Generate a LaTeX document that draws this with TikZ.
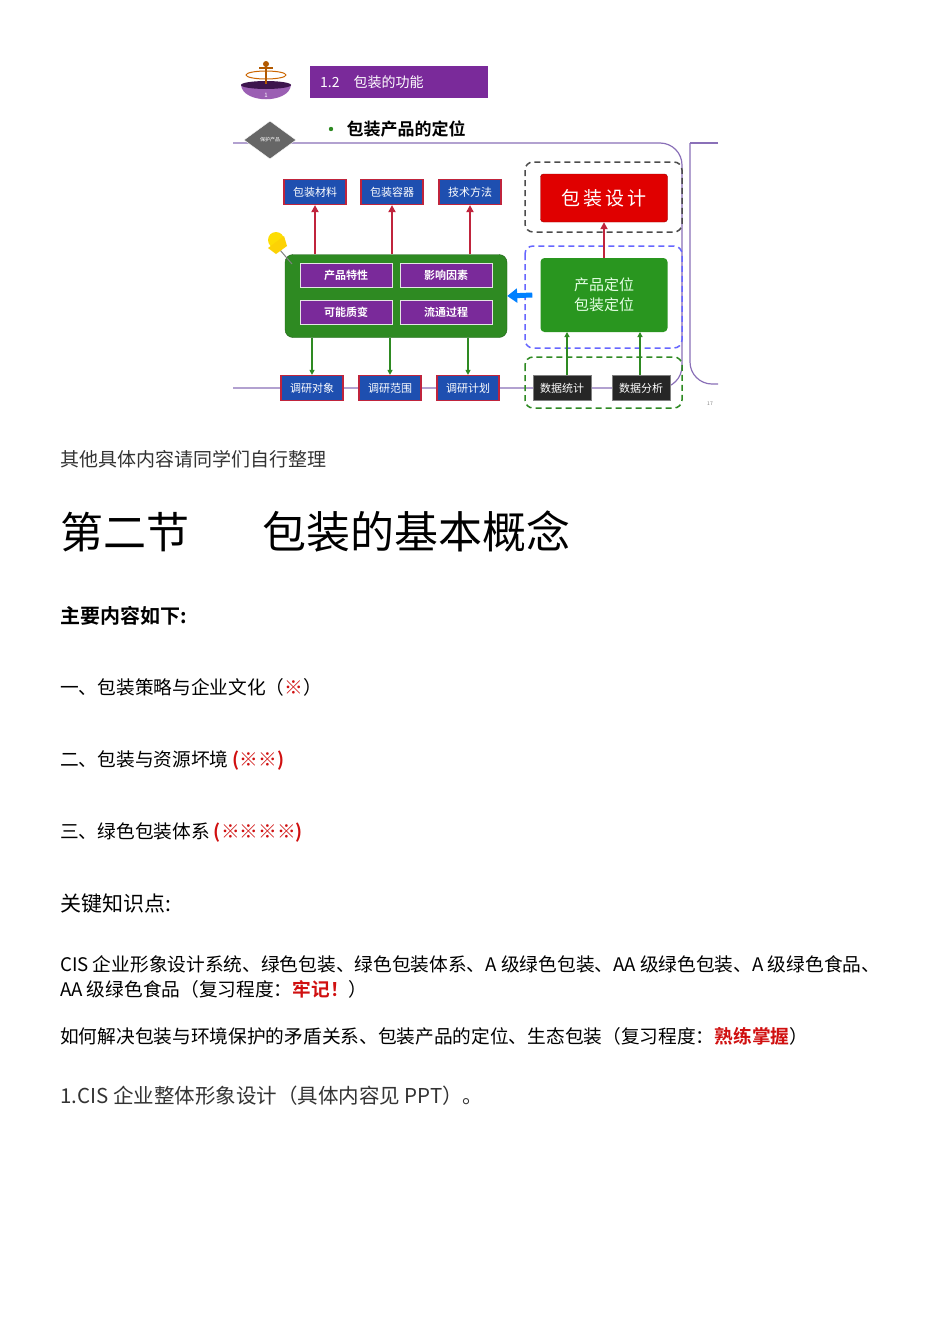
\documentclass[tikz,border=0pt]{standalone}
\usepackage{fontspec}
\setmainfont{Noto Sans CJK SC}
\newfontfamily\cjk{Noto Sans CJK SC}
\newfontfamily\cjkb{Noto Sans CJK SC Bold}
\usetikzlibrary{arrows.meta,shapes.geometric}
\definecolor{pur}{HTML}{7A2A9A}
\definecolor{frame}{HTML}{8A70B8}
\definecolor{bluebox}{HTML}{1E4FB0}
\definecolor{redline}{HTML}{C0243C}
\definecolor{gbox}{HTML}{2E8A22}
\definecolor{red1}{HTML}{E00000}
\definecolor{txtred}{HTML}{D01010}
\begin{document}
\begin{tikzpicture}[x=1pt,y=-1pt,
  topbox/.style={draw=redline,line width=1.2pt,fill=bluebox,text=white,font=\cjk\fontsize{11}{11}\selectfont,minimum width=62pt,minimum height=25pt,inner sep=1pt},
  inbox/.style={draw=white!80!gray,line width=1pt,fill=pur,text=white,font=\cjkb\fontsize{11}{11}\selectfont,minimum width=92pt,minimum height=24pt,inner sep=1pt},
  darkbox/.style={fill=black!85,text=white,draw=gray,font=\cjk\fontsize{11}{11}\selectfont,minimum width=58pt,minimum height=25pt,inner sep=1pt},
  uparr/.style={redline,line width=1.8pt,-{Triangle[length=7pt,width=7pt]}},
  dnarr/.style={gbox,line width=1.2pt,-{Triangle[length=5pt,width=5pt]}},
  dbox/.style={dashed,line width=1.5pt,rounded corners=8pt,dash pattern=on 6pt off 4pt},
  body/.style={anchor=west,inner sep=0pt,font=\cjk\fontsize{18.7}{18.7}\selectfont},
  bodyb/.style={anchor=west,inner sep=0pt,font=\cjkb\fontsize{18.7}{18.7}\selectfont}]
\useasboundingbox (0,0) rectangle (950,1344);
\fill[white] (0,0) rectangle (950,1344);
% frame
\draw[frame,line width=1.2pt,rounded corners=22pt] (233,143) -- (682,143) -- (682,388) -- (233,388);
\draw[frame,line width=1.2pt] (718,143) -- (690,143);
\draw[frame,line width=1.2pt,rounded corners=22pt] (690,143) -- (690,384) -- (718,384);
% header
\fill[pur!75] (241,85) .. controls (243,104) and (289,104) .. (291,85) -- cycle;
\fill[pur!50!black] (266,85) ellipse[x radius=25,y radius=4];
\node[font=\cjk\fontsize{6}{6}\selectfont,text=white] (one) at (266,95) {1};
\draw[orange!80!black,line width=1pt] (266,75) ellipse[x radius=20,y radius=4];
\fill[orange!70!black] (266,64) circle[radius=3];
\draw[orange!70!black,line width=1.5pt] (266,66) -- (266,84) (259,68) -- (273,68);
\node[fill=pur,text=white,font=\cjk\fontsize{14}{14}\selectfont,minimum width=178pt,minimum height=32pt,anchor=west,inner xsep=10pt,text width=158pt] (hdr) at (310,82) {1.2\quad 包装的功能};
\node[diamond,fill=black!60,draw=white,minimum width=52pt,minimum height=38pt,inner sep=0pt,font=\cjk\fontsize{5}{5}\selectfont,text=white] (dia) at (270,140) {保护产品};
\fill[gbox] (331,129) circle[radius=2.2];
\node[anchor=west,font=\cjkb\fontsize{17}{17}\selectfont] (ttl) at (343,129) {包装产品的定位};
% left part
\node[topbox] (m1) at (315,192) {包装材料};
\node[topbox] (m2) at (392,192) {包装容器};
\node[topbox] (m3) at (470,192) {技术方法};
\node[fill=gbox,rounded corners=8pt,draw=gbox!70!black,minimum width=222pt,minimum height=83pt] (gb) at (396,296) {};
\node[inbox] (p1) at (346,275) {产品特性};
\node[inbox] (p2) at (446,275) {影响因素};
\node[inbox] (p3) at (346,312) {可能质变};
\node[inbox] (p4) at (446,312) {流通过程};
\draw[uparr] (gb.north -| m1) -- (m1.south);
\draw[uparr] (gb.north -| m2) -- (m2.south);
\draw[uparr] (gb.north -| m3) -- (m3.south);
\node[topbox] (r1) at (312,388) {调研对象};
\node[topbox] (r2) at (390,388) {调研范围};
\node[topbox] (r3) at (468,388) {调研计划};
\draw[dnarr] (gb.south -| r1) -- (r1.north);
\draw[dnarr] (gb.south -| r2) -- (r2.north);
\draw[dnarr] (gb.south -| r3) -- (r3.north);
% pushpin
\draw[gray,line width=1pt] (280,250) -- (292,264);
\fill[yellow!80!orange] (276,240) circle[radius=8];
\fill[yellow!70!orange] (268,248) -- (284,236) -- (287,246) -- (276,254) -- cycle;
% right part
\draw[dbox,black!70] (525,162) rectangle (682,232);
\draw[dbox,blue!60] (525,246) rectangle (682,348);
\draw[dbox,gbox] (525,357) rectangle (682,408);
\node[fill=red1,draw=red!60!black,rounded corners=3pt,minimum width=127pt,minimum height=48pt,text=white,font=\cjk\fontsize{19}{19}\selectfont] (des) at (604,198) {包\,装\,设\,计};
\node[fill=gbox!90!green,rounded corners=4pt,minimum width=127pt,minimum height=74pt,text=white!90!green,font=\cjk\fontsize{15}{15}\selectfont,align=center] (pos) at (604,295) {产品定位\\[5pt]包装定位};
\draw[uparr] (pos.north) -- (des.south);
\node[darkbox] (s1) at (562,388) {数据统计};
\node[darkbox] (s2) at (641,388) {数据分析};
\draw[dnarr] (s1.north -| 567,0) -- (567,332);
\draw[dnarr] (s2.north -| 640,0) -- (640,332);
\draw[blue!50!cyan,line width=5pt,-{Triangle[length=10pt,width=14pt]}] (pos.west) ++(-8,0) -- (gb.east);
\node[font=\fontsize{5}{5}\selectfont,text=gray] (pg) at (710,404) {17};
% text
\node[body,font=\cjk\fontsize{19}{19}\selectfont,text=black!80] (t0) at (60,459) {其他具体内容请同学们自行整理};
\node[body,font=\cjk\fontsize{43}{43}\selectfont] (h1) at (60,532) {第二节};
\node[body,font=\cjk\fontsize{44}{44}\selectfont] (h2) at (262,532) {包装的基本概念};
\node[bodyb,font=\cjkb\fontsize{20}{20}\selectfont] (t1) at (60,616) {主要内容如下:};
\node[body] (t2) at (60,687) {一、包装策略与企业文化（\textcolor{txtred}{※}）};
\node[body] (t3) at (60,760) {二、包装与资源坏境\ \textcolor{txtred}{\cjkb(※※)}};
\node[body] (t4) at (60,832) {三、绿色包装体系\ \textcolor{txtred}{\cjkb(※※※※)}};
\node[body,font=\cjk\fontsize{21}{21}\selectfont] (t5) at (60,904) {关键知识点:};
\node[body] (t6) at (60,964) {CIS 企业形象设计系统、绿色包装、绿色包装体系、A 级绿色包装、AA 级绿色包装、A 级绿色食品、};
\node[body] (t7) at (60,989) {AA 级绿色食品（复习程度：\textcolor{txtred}{\cjkb 牢记！}）};
\node[body] (t8) at (60,1036) {如何解决包装与环境保护的矛盾关系、包装产品的定位、生态包装（复习程度：\textcolor{txtred}{\cjkb 熟练掌握}）};
\node[body,font=\cjk\fontsize{20.5}{20.5}\selectfont,text=black!80] (t9) at (60,1096) {1.CIS 企业整体形象设计（具体内容见 PPT）。};
\end{tikzpicture}
\end{document}
